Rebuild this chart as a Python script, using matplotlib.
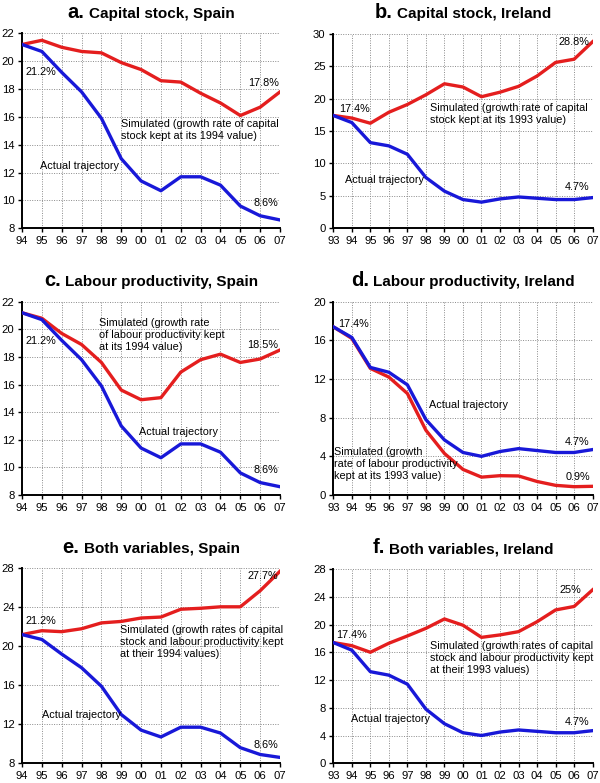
import matplotlib
matplotlib.use('Agg')
import matplotlib.pyplot as plt
from matplotlib.offsetbox import TextArea, HPacker, AnchoredOffsetbox

plt.rcParams['font.family'] = ['Liberation Sans', 'DejaVu Sans']

# ---------------- data ----------------
spain_years = ['94', '95', '96', '97', '98', '99', '00', '01', '02', '03', '04', '05', '06', '07']
ireland_years = ['93', '94', '95', '96', '97', '98', '99', '00', '01', '02', '03', '04', '05', '06', '07']

spain_actual = [21.2, 20.7, 19.2, 17.8, 15.9, 13.0, 11.4, 10.7, 11.7, 11.7, 11.1, 9.6, 8.9, 8.6]
ireland_actual = [17.4, 16.3, 13.2, 12.7, 11.4, 7.8, 5.7, 4.4, 4.0, 4.5, 4.8, 4.6, 4.4, 4.4, 4.7]

spain_sim_capital = [21.2, 21.5, 21.0, 20.7, 20.6, 19.9, 19.4, 18.6, 18.5, 17.7, 17.0, 16.1, 16.7, 17.8]
ireland_sim_capital = [17.4, 17.0, 16.2, 17.9, 19.1, 20.6, 22.3, 21.8, 20.3, 21.0, 21.9, 23.5, 25.6, 26.1, 28.8]

spain_sim_productivity = [21.2, 20.8, 19.7, 18.9, 17.6, 15.6, 14.9, 15.05, 16.9, 17.8, 18.2, 17.6, 17.85, 18.5]
ireland_sim_productivity = [17.4, 16.2, 13.1, 12.2, 10.5, 6.7, 4.3, 2.65, 1.85, 2.0, 1.97, 1.4, 1.0, 0.86, 0.9]

spain_sim_both = [21.2, 21.6, 21.5, 21.8, 22.4, 22.55, 22.9, 23.0, 23.8, 23.9, 24.05, 24.05, 25.7, 27.7]
ireland_sim_both = [17.4, 16.95, 16.0, 17.3, 18.35, 19.45, 20.8, 19.9, 18.15, 18.5, 18.97, 20.4, 22.1, 22.6, 25.0]

RED = '#e41e1e'
BLUE = '#1818d8'

fig = plt.figure(figsize=(6, 7.83), dpi=100)

LX, LW = 0.0367, 0.4300
RX, RW = 0.5555, 0.4322

panels = [
    dict(pos=[LX, 0.7084, LW, 0.2490], letter='a.', title='Capital stock, Spain',
         years=spain_years, actual=spain_actual, sim=spain_sim_capital,
         ylim=(8, 22), ystep=2,
         texts=[('21.2%', 0.17, 19.2, 'left'),
                ('17.8%', 12.93, 18.4, 'right'),
                ('Simulated (growth rate of capital\nstock kept at its 1994 value)', 4.98, 15.06, 'left'),
                ('Actual trajectory', 0.89, 12.5, 'left'),
                ('8.6%', 12.93, 9.85, 'right')]),
    dict(pos=[RX, 0.7088, RW, 0.2478], letter='b.', title='Capital stock, Ireland',
         years=ireland_years, actual=ireland_actual, sim=ireland_sim_capital,
         ylim=(0, 30), ystep=5,
         texts=[('17.4%', 0.32, 18.4, 'left'),
                ('28.8%', 13.81, 28.8, 'right'),
                ('Simulated (growth rate of capital\nstock kept at its 1993 value)', 5.22, 17.6, 'left'),
                ('Actual trajectory', 0.63, 7.46, 'left'),
                ('4.7%', 13.85, 6.33, 'right')]),
    dict(pos=[LX, 0.3678, LW, 0.2469], letter='c.', title='Labour productivity, Spain',
         years=spain_years, actual=spain_actual, sim=spain_sim_productivity,
         ylim=(8, 22), ystep=2,
         texts=[('21.2%', 0.17, 19.15, 'left'),
                ('Simulated (growth rate\nof labour productivity kept\nat its 1994 value)', 3.9, 19.58, 'left'),
                ('18.5%', 12.93, 18.86, 'right'),
                ('Actual trajectory', 5.87, 12.54, 'left'),
                ('8.6%', 12.93, 9.8, 'right')]),
    dict(pos=[RX, 0.3678, RW, 0.2469], letter='d.', title='Labour productivity, Ireland',
         years=ireland_years, actual=ireland_actual, sim=ireland_sim_productivity,
         ylim=(0, 20), ystep=4,
         texts=[('17.4%', 0.27, 17.66, 'left'),
                ('Actual trajectory', 5.18, 9.3, 'left'),
                ('4.7%', 13.85, 5.5, 'right'),
                ('Simulated (growth\nrate of labour productivity\nkept at its 1993 value)', 0.05, 3.2, 'left'),
                ('0.9%', 13.85, 1.83, 'right')]),
    dict(pos=[LX, 0.0252, LW, 0.2490], letter='e.', title='Both variables, Spain',
         years=spain_years, actual=spain_actual, sim=spain_sim_both,
         ylim=(8, 28), ystep=4,
         texts=[('21.2%', 0.17, 22.58, 'left'),
                ('27.7%', 12.88, 27.2, 'right'),
                ('Simulated (growth rates of capital\nstock and labour productivity kept\nat their 1994 values)', 4.95, 20.42, 'left'),
                ('Actual trajectory', 1.0, 12.97, 'left'),
                ('8.6%', 12.93, 9.9, 'right')]),
    dict(pos=[RX, 0.0252, RW, 0.2481], letter='f.', title='Both variables, Ireland',
         years=ireland_years, actual=ireland_actual, sim=ireland_sim_both,
         ylim=(0, 28), ystep=4,
         texts=[('17.4%', 0.18, 18.5, 'left'),
                ('25%', 13.4, 24.97, 'right'),
                ('Simulated (growth rates of capital\nstock and labour productivity kept\nat their 1993 values)', 5.22, 15.22, 'left'),
                ('Actual trajectory', 0.95, 6.39, 'left'),
                ('4.7%', 13.85, 5.9, 'right')]),
]

for p in panels:
    ax = fig.add_axes(p['pos'])
    x = list(range(len(p['years'])))
    ax.plot(x, p['sim'], color=RED, lw=2.4, solid_joinstyle='round', zorder=3)
    ax.plot(x, p['actual'], color=BLUE, lw=2.4, solid_joinstyle='round', zorder=3)
    ax.set_xlim(0, len(x) - 1)
    ax.set_ylim(*p['ylim'])
    ax.set_xticks(x)
    ax.set_xticklabels(p['years'])
    lo, hi = p['ylim']
    ax.set_yticks(list(range(lo, hi + 1, p['ystep'])))
    ax.grid(True, color='#8a8a8a', linestyle=(0, (1, 1.5)), linewidth=0.7)
    ax.set_axisbelow(True)
    for s in ['top', 'right']:
        ax.spines[s].set_visible(False)
    for s in ['left', 'bottom']:
        ax.spines[s].set_linewidth(1.4)
    ax.tick_params(axis='both', direction='out', length=3, width=1.0, labelsize=8.1, pad=2.5)
    for t, tx, ty, ha in p['texts']:
        ax.text(tx, ty, t, ha=ha, va='center', fontsize=7.8, linespacing=1.25, zorder=4)
    ta1 = TextArea(p['letter'], textprops=dict(fontsize=14.5, fontweight='bold'))
    ta2 = TextArea(p['title'], textprops=dict(fontsize=11, fontweight='bold'))
    box = HPacker(children=[ta1, ta2], align='baseline', pad=0, sep=3)
    anch = AnchoredOffsetbox(loc='lower center', child=box, pad=0, borderpad=0,
                             frameon=False, bbox_to_anchor=(0.5, 1.06),
                             bbox_transform=ax.transAxes)
    ax.add_artist(anch)

fig.savefig('out.png', dpi=100)
